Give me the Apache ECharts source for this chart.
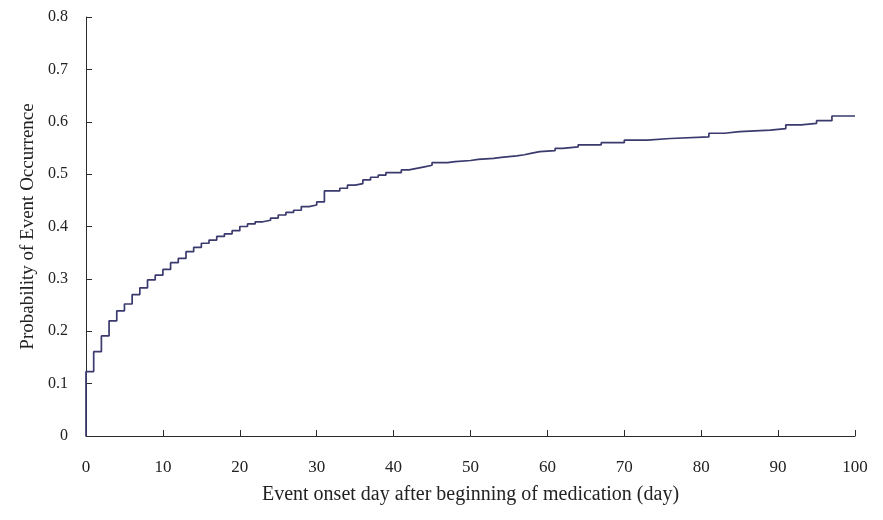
<!DOCTYPE html>
<html>
<head>
<meta charset="utf-8">
<script src="https://cdn.jsdelivr.net/npm/echarts@6/dist/echarts.min.js"></script>
<style>
  html, body { margin: 0; padding: 0; background: #ffffff; }
  #chart { width: 883px; height: 520px; }
</style>
</head>
<body>
<div id="chart"></div>
<script>
// Cumulative probability of event occurrence by onset day (step function)
const eventDays = [0, 0, 1, 2, 3, 4, 5, 6, 7, 8, 9, 10, 11, 12, 13, 14, 15, 16, 17, 18, 19,
  20, 21, 22, 23, 24, 25, 26, 27, 28, 29, 30, 31, 33, 34, 35, 36, 37, 38, 39, 41,
  42, 43, 44, 45, 47, 48, 50, 51, 53, 54, 56, 57, 58, 59, 61, 62, 64, 67, 70, 73,
  76, 81, 83, 85, 89, 91, 93, 95, 97, 100];
const eventProb = [0, 0.123, 0.161, 0.191, 0.220, 0.239, 0.252, 0.270, 0.283, 0.298, 0.307,
  0.318, 0.331, 0.339, 0.352, 0.360, 0.368, 0.374, 0.381, 0.386, 0.392,
  0.400, 0.405, 0.409, 0.412, 0.416, 0.422, 0.427, 0.431, 0.438, 0.441, 0.447,
  0.468, 0.473, 0.479, 0.482, 0.489, 0.494, 0.498, 0.503, 0.508,
  0.511, 0.514, 0.517, 0.522, 0.524, 0.526, 0.528, 0.530, 0.532, 0.535, 0.537,
  0.540, 0.543, 0.545, 0.549, 0.552, 0.556, 0.560, 0.565, 0.568,
  0.571, 0.578, 0.581, 0.584, 0.587, 0.594, 0.597, 0.602, 0.611, 0.611];

const xTicks = { min: 0, max: 100, interval: 10 };
const yTicks = { min: 0, max: 0.8, interval: 0.1 };

const xTitle = 'Event onset day after beginning of medication (day)';
const yTitle = 'Probability of Event Occurrence';

const seriesData = eventDays.map((d, i) => [d, eventProb[i]]);

const serif = '"Liberation Serif", "DejaVu Serif", serif';
const axisColor = '#2b2b2b';
const textColor = '#222222';

const chart = echarts.init(document.getElementById('chart'), null, { renderer: 'canvas' });
chart.setOption({
  backgroundColor: '#ffffff',
  animation: false,
  grid: { left: 86, right: 28, top: 17, bottom: 84, containLabel: false },
  xAxis: {
    type: 'value',
    min: xTicks.min, max: xTicks.max, interval: xTicks.interval,
    name: xTitle,
    nameLocation: 'middle',
    nameGap: 49,
    nameTextStyle: { fontFamily: serif, fontSize: 20, color: textColor },
    axisLine: { show: true, lineStyle: { color: axisColor, width: 1 } },
    axisTick: { show: true, inside: true, length: 6, lineStyle: { color: axisColor } },
    axisLabel: { fontFamily: serif, fontSize: 17, color: textColor, margin: 23,
      formatter: v => String(v) },
    splitLine: { show: false }
  },
  yAxis: {
    type: 'value',
    min: yTicks.min, max: yTicks.max, interval: yTicks.interval,
    name: yTitle,
    nameLocation: 'middle',
    nameGap: 39,
    nameRotate: 90,
    nameTextStyle: { fontFamily: serif, fontSize: 19, color: textColor },
    axisLine: { show: true, lineStyle: { color: axisColor, width: 1 } },
    axisTick: { show: true, inside: true, length: 6, lineStyle: { color: axisColor } },
    axisLabel: { fontFamily: serif, fontSize: 16, color: textColor, margin: 18,
      formatter: v => (v === 0 ? '0' : v.toFixed(1)) },
    splitLine: { show: false }
  },
  series: [{
    type: 'line',
    step: 'end',
    data: seriesData,
    symbol: 'none',
    lineStyle: { color: '#3a3a6e', width: 1.7 },
    z: 3
  }]
});
</script>
</body>
</html>
